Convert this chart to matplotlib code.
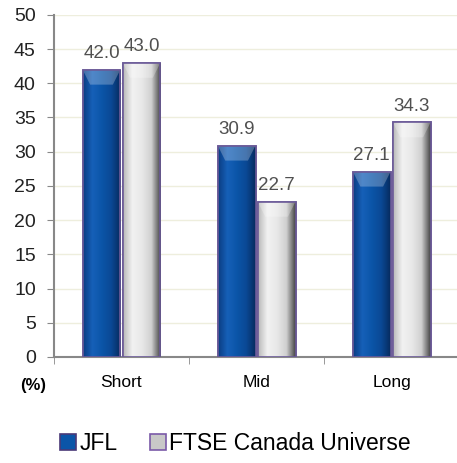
import numpy as np
import matplotlib
matplotlib.use("Agg")
import matplotlib.pyplot as plt
from matplotlib.colors import LinearSegmentedColormap
from matplotlib.patches import Patch

plt.rcParams['font.family'] = ['Liberation Sans', 'DejaVu Sans']

categories = ["Short", "Mid", "Long"]
jfl = [42.0, 30.9, 27.1]
ftse = [43.0, 22.7, 34.3]
series_names = ["JFL", "FTSE Canada Universe"]

fig = plt.figure(figsize=(4.57, 4.63), dpi=100)
ax = fig.add_axes([0.118, 0.229, 0.887, 0.739])

x = np.arange(len(categories))
width = 0.28
offset = 0.148

# horizontal shading to get the bevelled look
blue_cmap = LinearSegmentedColormap.from_list(
    "blue", ["#0a3c82", "#1660b8", "#0b55a8", "#0a4894", "#062a5c"])
grey_cmap = LinearSegmentedColormap.from_list(
    "grey", ["#b8b8b8", "#f2f2f2", "#e8e8e8", "#d0d0d0", "#404040"])
grad = np.linspace(0, 1, 256).reshape(1, -1)

def shaded_bars(xpos, values, cmap, face):
    bars = ax.bar(xpos, values, width, color=face, edgecolor="#6b5a98",
                  linewidth=1.2, zorder=3)
    for b in bars:
        x0, y0 = b.get_x(), b.get_y()
        w, h = b.get_width(), b.get_height()
        im = ax.imshow(grad, cmap=cmap, aspect="auto",
                       extent=(x0, x0 + w, y0, y0 + h), zorder=3.5)
        im.set_clip_path(b)
        # top bevel
        ax.fill([x0, x0 + w, x0 + w * 0.8, x0 + w * 0.2],
                [y0 + h, y0 + h, y0 + h - 2.2, y0 + h - 2.2],
                color="white", alpha=0.25, zorder=3.6, lw=0)
    # outline on top of the gradient
    ax.bar(xpos, values, width, fill=False, edgecolor="#6b5a98",
           linewidth=1.2, zorder=4)
    return bars

shaded_bars(x - offset, jfl, blue_cmap, "#0b55a8")
shaded_bars(x + offset, ftse, grey_cmap, "#e8e8e8")

for xi, v in zip(x - offset, jfl):
    ax.text(xi, v + 1.7, f"{v:.1f}", ha="center", va="baseline",
            fontsize=13.5, color="#505050", zorder=5)
for xi, v in zip(x + offset, ftse):
    ax.text(xi, v + 1.7, f"{v:.1f}", ha="center", va="baseline",
            fontsize=13.5, color="#505050", zorder=5)

ax.set_xlim(-0.5, 2.5)
ax.set_ylim(0, 50)
ax.set_yticks(range(0, 51, 5))
ax.set_xticks(x)
ax.set_xticklabels(categories)
ax.set_xticks([-0.5, 0.5, 1.5, 2.5], minor=True)
ax.tick_params(axis="x", which="major", length=0, pad=13, labelsize=12.5)
ax.tick_params(axis="x", which="minor", length=5, color="#888888")
ax.tick_params(axis="y", length=5, color="#888888", labelsize=14, pad=8,
               labelcolor="#222222")

ax.grid(axis="y", color="#eeeedd", linewidth=1, zorder=0)
ax.set_axisbelow(True)
for s in ["top", "right"]:
    ax.spines[s].set_visible(False)
for s in ["left", "bottom"]:
    ax.spines[s].set_color("#888888")
    ax.spines[s].set_linewidth(1.5)

fig.text(0.072, 0.168, "(%)", fontsize=12, fontweight="bold",
         ha="center", va="center")

handles = [Patch(facecolor="#0b55a8", edgecolor="#4a3a78", linewidth=1.2),
           Patch(facecolor="#c8c8c8", edgecolor="#7a5aa8", linewidth=1.2)]
fig.legend(handles, series_names, loc="center", bbox_to_anchor=(0.515, 0.043),
           ncol=2, frameon=False, fontsize=16.5, handlelength=0.7,
           handleheight=0.7, handletextpad=0.15, columnspacing=1.4)

fig.savefig("out.png", dpi=100)
